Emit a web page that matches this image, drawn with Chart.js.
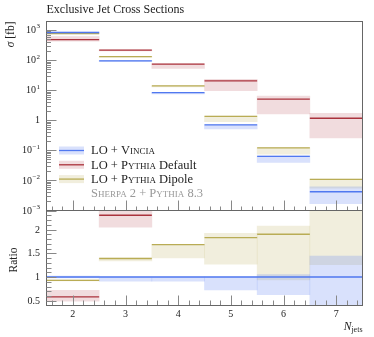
<!DOCTYPE html>
<html>
<head>
<meta charset="utf-8">
<script src="https://cdn.jsdelivr.net/npm/chart.js@4"></script>
<style>
  body { margin: 0; background: #fff; }
  .wrap { position: relative; width: 374px; height: 337px; }
  canvas { position: absolute; left: 0; top: 0; }
</style>
</head>
<body>
<div class="wrap">
  <canvas id="main" width="374" height="337"></canvas>
  <canvas id="ratio" width="374" height="337"></canvas>
</div>
<script>
// bins (N_jets)
const binLo = [1.5, 2.5, 3.5, 4.5, 5.5, 6.5];
const binHi = [2.5, 3.5, 4.5, 5.5, 6.5, 7.5];
const nJets = [2, 3, 4, 5, 6, 7];
const xTickLabels = ['2', '3', '4', '5', '6', '7'];

// main panel: sigma [fb]
const vincia   = [832, 95, 8.3, 0.71, 0.063, 0.0042];
const vinciaLo = [800, 91, 7.6, 0.52, 0.040, 0.0017];
const vinciaHi = [860, 98, 8.4, 0.72, 0.066, 0.0061];
const pyDef    = [486, 215, 73.6, 20.4, 5.1, 1.17];
const pyDefLo  = [430, 205, 53, 9.7, 1.62, 0.26];
const pyDefHi  = [613, 222, 75, 23, 6.45, 1.71];
const pyDip    = [765, 132, 13.9, 1.36, 0.122, 0.0108];
const pyDipLo  = [750, 125, 12.8, 0.90, 0.075, 0.0055];
const pyDipHi  = [770, 134, 14.0, 1.38, 0.124, 0.0110];

// ratio panel (to LO + Vincia)
const rVincia   = [1, 1, 1, 1, 1, 1];
const rVinciaLo = [0.98, 0.91, 0.91, 0.73, 0.63, 0.30];
const rVinciaHi = [1.02, 1.00, 1.00, 1.00, 1.05, 1.44];
const rPyDef    = [0.58, 2.30, 8.9, 29, 81, 279];
const rPyDefLo  = [0.49, 2.05, 6.4, 14, 26, 62];
const rPyDefHi  = [0.72, 2.39, 9.0, 32, 100, 400];
const rPyDip    = [0.93, 1.39, 1.68, 1.83, 1.90, 2.57];
const rPyDipLo  = [0.92, 1.34, 1.40, 1.27, 0.94, 1.26];
const rPyDipHi  = [0.94, 1.40, 1.69, 1.92, 2.07, 2.60];

const ratioTicks = [0.5, 1, 1.5, 2];

const BLUE = 'rgb(80,120,240)', BLUE_BAND = 'rgba(80,120,240,0.22)';
const RED = 'rgb(170,50,60)', RED_BAND = 'rgba(170,50,60,0.17)';
const GOLD = 'rgb(185,172,85)', GOLD_BAND = 'rgba(185,172,85,0.2)';
const SERIF = '"Liberation Serif", "DejaVu Serif", serif';

function steps(vals) {
  const pts = [];
  vals.forEach((v, i) => {
    pts.push({x: binLo[i], y: v}, {x: binHi[i], y: v}, {x: binHi[i], y: null});
  });
  return pts;
}
function band(lo, hi) {
  return nJets.map((n, i) => ({x: n, y: [lo[i], hi[i]]}));
}
function lineSet(vals, color) {
  return {type: 'line', data: steps(vals), borderColor: color, borderWidth: 1.3,
          pointRadius: 0, spanGaps: false, order: 0};
}
function bandSet(lo, hi, color) {
  return {type: 'bar', data: band(lo, hi), backgroundColor: color, order: 1};
}

function frameAndXTicks(chart, ctx, majorLen, minorLen) {
  const a = chart.chartArea, xs = chart.scales.x;
  ctx.strokeStyle = '#888';
  ctx.lineWidth = 1;
  ctx.beginPath();
  for (let t = 1.6; t < 7.45; t += 0.2) {
    const v = Math.round(t * 10) / 10;
    const px = Math.round(xs.getPixelForValue(v)) + 0.5;
    const len = Number.isInteger(v) ? majorLen : minorLen;
    ctx.moveTo(px, a.bottom);
    ctx.lineTo(px, a.bottom - len);
  }
  ctx.stroke();
  ctx.strokeStyle = '#666';
  ctx.strokeRect(a.left, a.top, a.right - a.left, a.bottom - a.top);
}

function smallCapsText(ctx, parts, x, y, size) {
  // parts: [text, smallcaps?]
  let cx = x;
  parts.forEach(([txt, sc]) => {
    ctx.font = (sc ? 'small-caps ' : '') + size + 'px ' + SERIF;
    ctx.fillText(txt, cx, y);
    cx += ctx.measureText(txt).width;
  });
}

const mainDecor = {
  id: 'mainDecor',
  afterDraw(chart) {
    const ctx = chart.ctx, a = chart.chartArea, ys = chart.scales.y;
    ctx.save();
    frameAndXTicks(chart, ctx, 10, 4);

    // log ticks on the left
    ctx.strokeStyle = '#888';
    ctx.beginPath();
    for (let k = -3; k <= 3; k++) {
      for (let m = 1; m <= 9; m++) {
        const v = m * Math.pow(10, k);
        if (v > ys.max || v < ys.min) continue;
        const py = Math.round(ys.getPixelForValue(v)) + 0.5;
        ctx.moveTo(a.left, py);
        ctx.lineTo(a.left + (m === 1 ? 10 : 4.5), py);
      }
    }
    ctx.stroke();

    ctx.fillStyle = '#222';
    ctx.textBaseline = 'middle';
    ctx.textAlign = 'right';
    for (let k = -3; k <= 3; k++) {
      const py = ys.getPixelForValue(Math.pow(10, k));
      const xr = 40;
      if (k === 0) {
        ctx.font = '10px ' + SERIF;
        ctx.fillText('1', xr, py + 0.5);
        continue;
      }
      const exp = k < 0 ? '\u2212' + (-k) : String(k);
      ctx.font = '7px ' + SERIF;
      const ew = ctx.measureText(exp).width;
      ctx.fillText(exp, xr, py - 3.5);
      ctx.font = '10px ' + SERIF;
      ctx.fillText('10', xr - ew - 0.5, py + 0.5);
    }

    // title
    ctx.textAlign = 'left';
    ctx.textBaseline = 'alphabetic';
    ctx.font = '12px ' + SERIF;
    ctx.fillText('Exclusive Jet Cross Sections', a.left, 13);

    // y title
    ctx.save();
    ctx.translate(14, a.top);
    ctx.rotate(-Math.PI / 2);
    ctx.font = 'italic 11.5px ' + SERIF;
    const sw = ctx.measureText('\u03c3').width;
    ctx.font = '11.5px ' + SERIF;
    const rw = ctx.measureText(' [fb]').width;
    ctx.font = 'italic 11.5px ' + SERIF;
    ctx.fillText('\u03c3', -sw - rw, 0);
    ctx.font = '11.5px ' + SERIF;
    ctx.fillText(' [fb]', -rw, 0);
    ctx.restore();

    // legend
    const rows = [
      [BLUE, BLUE_BAND, [['LO + ', false], ['Vincia', true]]],
      [RED, RED_BAND, [['LO + ', false], ['Pythia', true], [' Default', false]]],
      [GOLD, GOLD_BAND, [['LO + ', false], ['Pythia', true], [' Dipole', false]]]
    ];
    rows.forEach(([lc, bc, parts], i) => {
      const y = 150.5 + i * 14.3;
      ctx.fillStyle = bc;
      ctx.fillRect(59, y - 4, 25, 8);
      ctx.strokeStyle = lc;
      ctx.lineWidth = 1.3;
      ctx.beginPath();
      ctx.moveTo(59, y);
      ctx.lineTo(84, y);
      ctx.stroke();
      ctx.fillStyle = '#222';
      ctx.textBaseline = 'middle';
      smallCapsText(ctx, parts, 91, y + 0.5, 12.5);
    });
    ctx.fillStyle = '#999';
    smallCapsText(ctx, [['Sherpa 2 + Pythia 8.3', true]], 91, 193.5, 12.5);
    ctx.restore();
  }
};

const ratioDecor = {
  id: 'ratioDecor',
  afterDraw(chart) {
    const ctx = chart.ctx, a = chart.chartArea, ys = chart.scales.y, xs = chart.scales.x;
    ctx.save();
    frameAndXTicks(chart, ctx, 10, 5);

    ctx.strokeStyle = '#888';
    ctx.beginPath();
    for (let t = 5; t <= 23; t++) {
      const v = t / 10;
      const py = Math.round(ys.getPixelForValue(v)) + 0.5;
      ctx.moveTo(a.left, py);
      ctx.lineTo(a.left + (t % 5 === 0 ? 10 : 5), py);
    }
    ctx.stroke();

    ctx.fillStyle = '#222';
    ctx.font = '10px ' + SERIF;
    ctx.textAlign = 'right';
    ctx.textBaseline = 'middle';
    ratioTicks.forEach(v => ctx.fillText(String(v), 40, ys.getPixelForValue(v) + 0.5));

    ctx.textAlign = 'center';
    nJets.forEach((n, i) => ctx.fillText(xTickLabels[i], xs.getPixelForValue(n), 314));

    // axis titles
    ctx.save();
    ctx.translate(14, (a.top + a.bottom) / 2 + 2);
    ctx.rotate(-Math.PI / 2);
    ctx.font = '11.5px ' + SERIF;
    ctx.textAlign = 'center';
    ctx.fillText('Ratio', 0, 0);
    ctx.restore();

    ctx.textAlign = 'left';
    ctx.textBaseline = 'alphabetic';
    ctx.font = '8px ' + SERIF;
    const jw = ctx.measureText('jets').width;
    ctx.font = 'italic 11.5px ' + SERIF;
    const nw = ctx.measureText('N').width;
    ctx.fillText('N', a.right - jw - nw, 330);
    ctx.font = '8px ' + SERIF;
    ctx.fillText('jets', a.right - jw, 332);
    ctx.restore();
  }
};

function makeChart(id, yOpts, datasets, padTop, padBottom, plugin) {
  return new Chart(document.getElementById(id), {
    type: 'bar',
    data: {datasets: datasets},
    options: {
      responsive: false,
      animation: false,
      devicePixelRatio: 1,
      events: [],
      layout: {padding: {left: 46.5, right: 11.5, top: padTop, bottom: padBottom}},
      scales: {
        x: {type: 'linear', min: 1.5, max: 7.5, offset: false, display: false},
        y: Object.assign({display: false}, yOpts)
      },
      datasets: {bar: {barPercentage: 1, categoryPercentage: 1, borderWidth: 0, grouped: false}},
      plugins: {legend: {display: false}, tooltip: {enabled: false}}
    },
    plugins: [plugin]
  });
}

makeChart('main', {type: 'logarithmic', min: 0.001, max: 1935}, [
  lineSet(vincia, BLUE),
  lineSet(pyDef, RED),
  lineSet(pyDip, GOLD),
  bandSet(vinciaLo, vinciaHi, BLUE_BAND),
  bandSet(pyDefLo, pyDefHi, RED_BAND),
  bandSet(pyDipLo, pyDipHi, GOLD_BAND)
], 21.5, 126.5, mainDecor);

makeChart('ratio', {type: 'linear', min: 0.4, max: 2.4}, [
  lineSet(rVincia, BLUE),
  lineSet(rPyDef, RED),
  lineSet(rPyDip, GOLD),
  bandSet(rVinciaLo, rVinciaHi, BLUE_BAND),
  bandSet(rPyDefLo, rPyDefHi, RED_BAND),
  bandSet(rPyDipLo, rPyDipHi, GOLD_BAND)
], 210.5, 31.5, ratioDecor);
</script>
</body>
</html>
